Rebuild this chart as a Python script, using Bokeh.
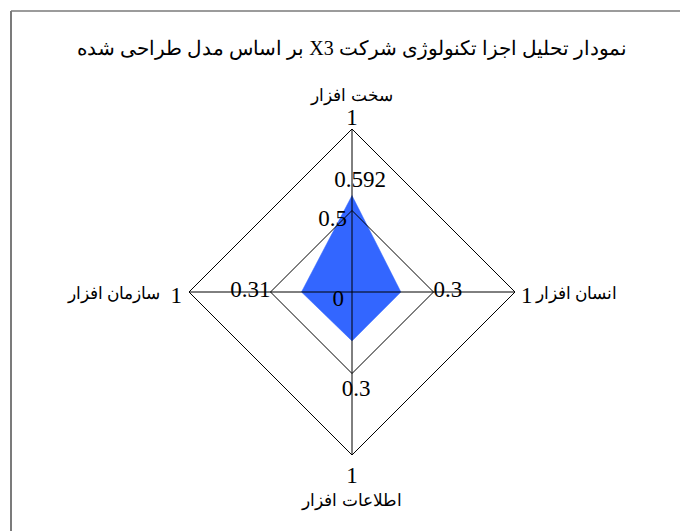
from bokeh.plotting import figure
from bokeh.models import Range1d
from bokeh.core.properties import value
from bokeh.embed import file_html
from bokeh.resources import INLINE

# ---- data ----
title_text = "نمودار تحلیل اجزا تکنولوژی شرکت X3 بر اساس مدل طراحی شده"
categories = ["سخت افزار", "انسان افزار", "اطلاعات افزار", "سازمان افزار"]  # top, right, bottom, left
values = [0.592, 0.3, 0.3, 0.31]
value_labels = ["0.592", "0.3", "0.3", "0.31"]
rings = [0.5, 1.0]
center_label = "0"
ring_label = "0.5"
outer_label = "1"

# ---- layout ----
W, H = 680, 531
R = 163.0              # pixels per unit radius
CX, CY = 351.5, 291.5  # centre in canvas pixels

def px(d):
    return d / R

dirs = [(0, 1), (1, 0), (0, -1), (-1, 0)]

p = figure(width=W, height=H, output_backend="svg", toolbar_location=None,
           x_range=Range1d(-CX / R, (W - CX) / R),
           y_range=Range1d(-(H - CY) / R, CY / R),
           x_axis_location=None, y_axis_location=None,
           min_border=0, outline_line_color=None)
p.grid.visible = False
p.background_fill_color = "white"
p.border_fill_color = "white"

# outer frame (extends past right/bottom)
fl, ft = -CX / R + px(10.5), CY / R - px(10.5)
p.line([fl, fl], [-10, ft], line_color="#5a5a5a", line_width=1.6)
p.line([fl, 10], [ft, ft], line_color="#7a7a7a", line_width=1.4)

# data polygon
xs = [v * d[0] for v, d in zip(values, dirs)]
ys = [v * d[1] for v, d in zip(values, dirs)]
p.patch(xs, ys, fill_color="#3366ff", line_color="#3366ff", line_width=0.5)

# rings
for r in rings:
    p.patch([r * d[0] for d in dirs], [r * d[1] for d in dirs],
            fill_color=None, line_color="black", line_width=1)
# spokes
for d in dirs:
    p.line([0, d[0] * rings[-1]], [0, d[1] * rings[-1]], line_color="black", line_width=1)

serif = value("Liberation Serif")
NUM = "23px"
CAT = "17px"

def txt(x, y, t, align="center", baseline="middle", size=NUM, font=serif):
    p.text(x=[x], y=[y], text=[t], text_align=align, text_baseline=baseline,
           text_font=font, text_font_size=size, text_color="black")

# title (right-to-left embedding so the mixed Latin part is ordered correctly)
txt(0, px(CY - 47), "\u202B" + title_text + "\u202C", size="20px")

# category labels
txt(0, 1 + px(34), categories[0], size=CAT)
txt(1 + px(21), px(-1), categories[1], align="left", size=CAT)
txt(0, -1 - px(45), categories[2], size=CAT)
txt(-1 - px(29), px(-1), categories[3], align="right", size=CAT)

# outer "1" labels
txt(0, 1 + px(12), outer_label)
txt(1 + px(6), px(-3), outer_label, align="left")
txt(0, -1 - px(20), outer_label)
txt(-1 - px(7), px(-3), outer_label, align="right")

# centre / ring labels
txt(-px(8), -px(6), center_label, align="right")
txt(-px(5), rings[0] - px(8), ring_label, align="right")

# value labels
lab_r = [max(v, rings[0]) for v in values]
txt(px(8), lab_r[0] + px(16), value_labels[0])
txt(lab_r[1], px(3), value_labels[1], align="left")
txt(px(4), -lab_r[2] - px(15), value_labels[2])
txt(-lab_r[3], px(3), value_labels[3], align="right")

open("out.html", "w").write(file_html(p, INLINE))
